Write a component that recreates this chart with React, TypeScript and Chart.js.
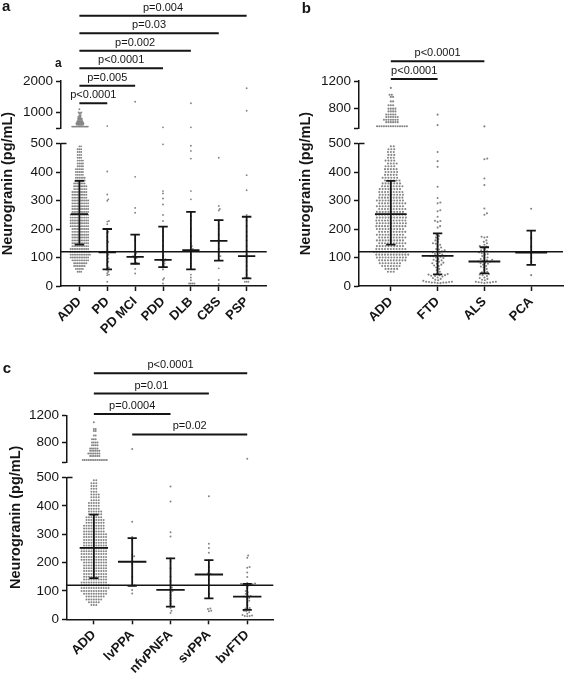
import React, { useEffect, useRef } from 'react';
import { Chart, registerables } from 'chart.js';

Chart.register(...registerables);

const FONT = '"Liberation Sans", Arial, Helvetica, sans-serif';
const INK = '#151515';
const DOT = '#858585';
Chart.defaults.font.family = FONT;

// ---------------- data ----------------
// ADD group (same in all panels): value levels and number of dots at each level
const ADD_LEVELS = [1100, 1000, 970, 905, 850, 800, 760, 715, 680, 640, 605, 545,
  490, 480, 470, 460, 450, 440, 430, 420, 410, 400, 390, 380, 370,
  360, 350, 340, 330, 320, 310, 300, 290, 280, 270, 260, 250, 240, 230, 220, 210, 200, 190, 180, 170, 160, 150,
  140, 130, 120, 110, 100, 90, 80, 70, 60, 50];
const ADD_COUNTS = [1, 2, 2, 2, 3, 4, 4, 5, 6, 7, 6, 14,
  2, 3, 3, 3, 3, 4, 4, 4, 5, 5, 5, 6, 6,
  7, 8, 8, 9, 9, 9, 10, 10, 10, 10, 10, 11, 11, 11, 11, 11, 10, 10, 10, 10, 10, 10,
  10, 11, 12, 12, 11, 10, 8, 7, 5, 3];
const ADD_VALUES: number[] = ADD_LEVELS.flatMap((v, i) => Array(ADD_COUNTS[i]).fill(v));

const REF_VALUE = 120;

// Panel a
const A_CATEGORIES = ['ADD', 'PD', 'PD MCI', 'PDD', 'DLB', 'CBS', 'PSP'];
const A_PD = [560, 402, 321, 304, 299, 228, 226, 217, 200, 190, 185, 172, 160, 155, 150, 140, 125, 120, 118, 115, 110, 105, 97, 92, 85, 80, 73, 65, 62, 58, 55, 50, 45, 40, 38, 15];
const A_PDMCI = [1340, 383, 274, 257, 160, 125, 115, 110, 105, 103, 100, 98, 95, 82, 78, 60, 44];
const A_PDD = [520, 497, 333, 325, 307, 286, 249, 228, 208, 190, 175, 158, 140, 123, 106, 100, 94, 92, 90, 88, 85, 82, 78, 75, 70, 65, 58, 27, 22, 9];
const A_DLB = [1288, 520, 492, 474, 447, 333, 304, 245, 230, 200, 175, 150, 140, 135, 130, 126, 125, 120, 110, 100, 90, 80, 70, 60, 40, 30, 20, 9, 9, 9, 9];
const A_CBS = [450, 281, 270, 265, 231, 213, 202, 180, 160, 150, 130, 120, 105, 105, 91, 62, 21, 7];
const A_PSP = [1767, 1051, 389, 336, 249, 230, 210, 190, 175, 160, 140, 125, 110, 100, 85, 70, 55, 40, 29, 29, 29, 15, 15, 15];
const A_MEDIAN = [252, 118, 102, 92, 126, 158, 105];
const A_Q1 = [145, 58, 78, 66, 58, 89, 27];
const A_Q3 = [369, 200, 180, 208, 260, 231, 243];
const A_TOP_TICKS = [1000, 2000];
const A_SIG_LABELS = ['p<0.0001', 'p=0.005', 'p<0.0001', 'p=0.002', 'p=0.03', 'p=0.004'];
const A_SIG_FROM = [0, 0, 0, 0, 0, 0];
const A_SIG_TO = [1, 2, 3, 4, 5, 6];
const A_SIG_LEVEL = [1, 2, 3, 4, 5, 6];

// Panel b
const B_CATEGORIES = ['ADD', 'FTD', 'ALS', 'PCA'];
const B_FTD = [713, 562, 470, 438, 418, 348, 309, 293, 290, 266, 262, 243, 229, 228, 225, 210, 205, 180, 175, 170, 165, 160, 155, 150, 148, 145, 140, 135, 130, 128, 125, 122, 120, 118, 115, 112, 110, 108, 106, 105, 104, 102, 100, 98, 95, 92, 90, 88, 85, 82, 80, 78, 75, 72, 70, 65, 60, 55, 50, 45, 42, 40, 38, 38, 36, 35, 33, 30, 28, 25, 22, 20, 18, 15, 15, 14, 14, 12, 12, 12, 12, 10, 10];
const B_ALS = [543, 447, 445, 377, 354, 272, 255, 250, 173, 172, 170, 160, 155, 150, 145, 140, 138, 135, 130, 125, 122, 120, 118, 115, 112, 110, 105, 100, 98, 95, 92, 90, 88, 86, 85, 82, 80, 78, 75, 70, 68, 65, 60, 55, 50, 48, 45, 42, 40, 38, 35, 30, 28, 25, 22, 20, 15, 15, 14, 13, 12, 12, 12, 10];
const B_PCA = [271, 168, 138, 115, 100, 85, 38];
const B_MEDIAN = [252, 106, 86, 117];
const B_Q1 = [145, 41, 44, 74];
const B_Q3 = [369, 185, 136, 194];
const B_TOP_TICKS = [800, 1200];
const B_SIG_LABELS = ['p<0.0001', 'p<0.0001'];
const B_SIG_FROM = [0, 0];
const B_SIG_TO = [1, 2];
const B_SIG_LEVEL = [1, 2];

// Panel c
const C_CATEGORIES = ['ADD', 'lvPPA', 'nfvPNFA', 'svPPA', 'bvFTD'];
const C_LVPPA = [708, 344, 290, 280, 228, 222, 217, 204, 195, 150, 120, 119, 103, 91];
const C_NFVPNFA = [468, 415, 307, 292, 214, 205, 180, 150, 135, 120, 112, 105, 100, 95, 85, 75, 65, 55, 44, 40, 30, 22];
const C_SVPPA = [434, 266, 251, 235, 208, 184, 172, 162, 160, 154, 140, 120, 89, 76, 38, 36, 30, 28];
const C_BVFTD = [562, 225, 217, 184, 182, 165, 149, 128, 126, 125, 124, 123, 122, 120, 118, 110, 100, 95, 90, 85, 82, 80, 78, 75, 70, 65, 60, 50, 40, 38, 35, 30, 28, 25, 20, 15, 13, 12, 12, 11];
const C_MEDIAN = [252, 203, 104, 158, 80];
const C_Q1 = [145, 118, 45, 74, 33];
const C_Q3 = [369, 286, 215, 209, 125];
const C_TOP_TICKS = [800, 1200];
const C_SIG_LABELS = ['p=0.02', 'p=0.0004', 'p=0.01', 'p<0.0001'];
const C_SIG_FROM = [1, 0, 0, 0];
const C_SIG_TO = [4, 2, 3, 4];
const C_SIG_LEVEL = [0, 1, 2, 3];

// ---------------- layout ----------------
type PanelSpec = {
  letter: string; cats: string[]; groups: number[][];
  median: number[]; q1: number[]; q3: number[]; topTicks: number[];
  sigLabels: string[]; sigFrom: number[]; sigTo: number[]; sigLevel: number[];
  box: { left: number; top: number; w: number; h: number };
  area: { left: number; top: number; right: number; bottom: number };
  xMin: number; xMax: number; topMin: number; topMax: number;
  sigLevel0: number; sigStep: number; titleX: number; letterX: number; letterY: number;
  gapLow: number; gapHigh: number; dotR: number; medHalf: number; capHalf: number; extraA?: boolean;
};

const PANELS: PanelSpec[] = [
  {
    letter: 'a', cats: A_CATEGORIES, groups: [ADD_VALUES, A_PD, A_PDMCI, A_PDD, A_DLB, A_CBS, A_PSP],
    median: A_MEDIAN, q1: A_Q1, q3: A_Q3, topTicks: A_TOP_TICKS,
    sigLabels: A_SIG_LABELS, sigFrom: A_SIG_FROM, sigTo: A_SIG_TO, sigLevel: A_SIG_LEVEL,
    box: { left: 0, top: 0, w: 285, h: 345 },
    area: { left: 61, top: 81, right: 266.7, bottom: 286 },
    xMin: -0.66, xMax: 6.72, topMin: 500, topMax: 2000,
    sigLevel0: 120.8, sigStep: 17.52, titleX: 8, letterX: 2, letterY: 10.5,
    gapLow: 1.75, gapHigh: 1.2, dotR: 0.95, medHalf: 0.31, capHalf: 0.17, extraA: true,
  },
  {
    letter: 'b', cats: B_CATEGORIES, groups: [ADD_VALUES, B_FTD, B_ALS, B_PCA],
    median: B_MEDIAN, q1: B_Q1, q3: B_Q3, topTicks: B_TOP_TICKS,
    sigLabels: B_SIG_LABELS, sigFrom: B_SIG_FROM, sigTo: B_SIG_TO, sigLevel: B_SIG_LEVEL,
    box: { left: 285, top: 0, w: 282, h: 345 },
    area: { left: 74, top: 81, right: 279.3, bottom: 286 },
    xMin: -0.68, xMax: 3.68, topMin: 520, topMax: 1200,
    sigLevel0: 96.7, sigStep: 17.7, titleX: 21, letterX: 16.7, letterY: 12.7,
    gapLow: 2.9, gapHigh: 2.3, dotR: 1.05, medHalf: 0.34, capHalf: 0.1,
  },
  {
    letter: 'c', cats: C_CATEGORIES, groups: [ADD_VALUES, C_LVPPA, C_NFVPNFA, C_SVPPA, C_BVFTD],
    median: C_MEDIAN, q1: C_Q1, q3: C_Q3, topTicks: C_TOP_TICKS,
    sigLabels: C_SIG_LABELS, sigFrom: C_SIG_FROM, sigTo: C_SIG_TO, sigLevel: C_SIG_LEVEL,
    box: { left: 0, top: 340, w: 330, h: 341 },
    area: { left: 67, top: 75.3, right: 273.3, bottom: 279.3 },
    xMin: -0.7, xMax: 4.68, topMin: 515, topMax: 1200,
    sigLevel0: 94.4, sigStep: 20.4, titleX: 16, letterX: 2.7, letterY: 33.3,
    gapLow: 2.45, gapHigh: 1.85, dotR: 1.0, medHalf: 0.37, capHalf: 0.12,
  },
];

function makeConfig(p: PanelSpec): any {
  const low: any[] = [];
  const high: any[] = [];
  p.groups.forEach((vals, g) => vals.forEach((v) => (v > 500 ? high : low).push({ x: g, y: v, g })));

  const stats: any[] = [];
  p.median.forEach((m, i) => {
    const a = p.q3[i];
    const b = p.q1[i];
    stats.push(
      { x: i - p.medHalf, y: m }, { x: i + p.medHalf, y: m }, { x: i, y: null },
      { x: i - p.capHalf, y: a }, { x: i + p.capHalf, y: a }, { x: i, y: null },
      { x: i, y: a }, { x: i, y: b }, { x: i, y: null },
      { x: i - p.capHalf, y: b }, { x: i + p.capHalf, y: b }, { x: i, y: null },
    );
  });
  const sig: any[] = [];
  p.sigLabels.forEach((_, i) => {
    sig.push({ x: p.sigFrom[i], y: p.sigLevel[i] }, { x: p.sigTo[i], y: p.sigLevel[i] }, { x: p.sigTo[i], y: null });
  });

  const H = p.area.bottom - p.area.top;
  const sigMax = (p.sigLevel0 - p.area.top) / p.sigStep;
  const sigMin = sigMax - H / p.sigStep;

  const dotBase = {
    type: 'scatter', showLine: false, pointRadius: p.dotR, pointBorderWidth: 0,
    pointBackgroundColor: DOT, backgroundColor: DOT, borderColor: DOT, clip: false, order: 5, xAxisID: 'x',
  };
  const lineBase = { type: 'scatter', showLine: true, pointRadius: 0, fill: false, spanGaps: false, clip: false, xAxisID: 'x' };

  const datasets = [
    { ...dotBase, label: 'dots-low', yAxisID: 'y', data: low, swarmGap: p.gapLow },
    { ...dotBase, label: 'dots-high', yAxisID: 'yTop', data: high, swarmGap: p.gapHigh },
    { ...lineBase, label: 'stats', yAxisID: 'y', data: stats, borderColor: INK, borderWidth: 1.8, order: 1 },
    { ...lineBase, label: 'ref', yAxisID: 'y', data: [{ x: p.xMin, y: REF_VALUE }, { x: p.xMax, y: REF_VALUE }], borderColor: INK, borderWidth: 1.5, order: 2 },
    { ...lineBase, label: 'sig', yAxisID: 'ySig', data: sig, borderColor: INK, borderWidth: 2, order: 1 },
  ];

  const grid = { drawOnChartArea: false, drawTicks: true, tickLength: 5, tickWidth: 1.5, tickColor: INK };
  const border = { display: true, width: 1.5, color: INK };
  const yTicks = { font: { size: 13.5 }, color: INK, padding: 3, autoSkip: false };

  const decor = {
    id: 'decor',
    afterDraw(chart: any) {
      const ctx = chart.ctx;
      const { x, y, ySig } = chart.scales;
      const ca = chart.chartArea;
      ctx.save();
      // break cap at the top of the lower segment
      const p500 = y.getPixelForValue(500);
      ctx.strokeStyle = INK;
      ctx.lineWidth = 1.5;
      ctx.beginPath();
      ctx.moveTo(ca.left, p500);
      ctx.lineTo(ca.left + 5.5, p500);
      ctx.stroke();
      // significance labels
      ctx.fillStyle = INK;
      ctx.font = `11px ${FONT}`;
      ctx.textAlign = 'center';
      ctx.textBaseline = 'middle';
      p.sigLabels.forEach((lab, i) => {
        const mid = (x.getPixelForValue(p.sigFrom[i]) + x.getPixelForValue(p.sigTo[i])) / 2;
        ctx.fillText(lab, mid, ySig.getPixelForValue(p.sigLevel[i]) - 8);
      });
      // axis title
      ctx.save();
      ctx.translate(p.titleX, (ca.top + ca.bottom) / 2);
      ctx.rotate(-Math.PI / 2);
      ctx.font = `bold 14.5px ${FONT}`;
      ctx.fillText('Neurogranin (pg/mL)', 0, 0);
      ctx.restore();
      // panel letter
      ctx.textAlign = 'left';
      ctx.textBaseline = 'alphabetic';
      ctx.font = `bold 15px ${FONT}`;
      ctx.fillText(p.letter, p.letterX, p.letterY);
      if (p.extraA) {
        ctx.font = `bold 12px ${FONT}`;
        ctx.fillText('a', 55, 67.3);
      }
      ctx.restore();
    },
  };

  return {
    type: 'scatter',
    data: { datasets },
    options: {
      animation: false,
      responsive: false,
      devicePixelRatio: 1,
      events: [],
      layout: { padding: { left: 0, top: p.area.top, right: p.box.w - p.area.right, bottom: 0 } },
      plugins: { legend: { display: false }, tooltip: { enabled: false } },
      scales: {
        x: {
          type: 'linear', position: 'bottom', min: p.xMin, max: p.xMax,
          afterBuildTicks: (s: any) => { s.ticks = p.cats.map((_, i) => ({ value: i })); },
          afterFit: (s: any) => { s.height = p.box.h - p.area.bottom; },
          ticks: {
            autoSkip: false, minRotation: 45, maxRotation: 45, padding: 3, color: INK,
            font: { size: 13, weight: 'bold' },
            callback: (v: any) => p.cats[Math.round(v)] ?? '',
          },
          grid, border,
        },
        y: {
          type: 'linear', position: 'left', stack: 'v', stackWeight: 142.5, min: 0, max: 500,
          afterFit: (s: any) => { s.width = p.area.left; },
          afterBuildTicks: (s: any) => { s.ticks = [0, 100, 200, 300, 400, 500].map((v) => ({ value: v })); },
          ticks: { ...yTicks },
          grid, border,
        },
        yGap: { type: 'linear', position: 'left', stack: 'v', stackWeight: 15.5, display: false, min: 0, max: 1 },
        yTop: {
          type: 'linear', position: 'left', stack: 'v', stackWeight: 47, min: p.topMin, max: p.topMax,
          afterFit: (s: any) => { s.width = p.area.left; },
          afterBuildTicks: (s: any) => { s.ticks = [p.topMin, ...p.topTicks].map((v) => ({ value: v })); },
          ticks: { ...yTicks, callback: (v: any) => (v === p.topMin ? '' : String(v)) },
          grid, border,
        },
        ySig: { type: 'linear', position: 'right', display: false, min: sigMin, max: sigMax },
      },
    },
    plugins: [decor],
  };
}

function applySwarm(chart: any) {
  const xs = chart.scales.x;
  const pxPerUnit = xs.getPixelForValue(1) - xs.getPixelForValue(0);
  chart.data.datasets.forEach((ds: any) => {
    if (!ds.swarmGap) return;
    const gap = ds.swarmGap;
    const ys = chart.scales[ds.yAxisID];
    const groups = new Map<number, any[]>();
    ds.data.forEach((pt: any) => {
      if (!groups.has(pt.g)) groups.set(pt.g, []);
      groups.get(pt.g)!.push(pt);
    });
    groups.forEach((pts) => {
      const items = pts.map((pt: any) => ({ pt, py: ys.getPixelForValue(pt.y), ox: 0 }));
      items.sort((a: any, b: any) => b.py - a.py);
      const placed: any[] = [];
      for (const it of items) {
        const near = placed.filter((q) => Math.abs(q.py - it.py) < gap);
        const cands = [0];
        near.forEach((q) => {
          const dx = Math.sqrt(Math.max(0, gap * gap - (q.py - it.py) ** 2));
          cands.push(q.ox + dx, q.ox - dx);
        });
        cands.sort((a, b) => Math.abs(a) - Math.abs(b) || b - a);
        for (const c of cands) {
          if (near.every((q) => (q.ox - c) ** 2 + (q.py - it.py) ** 2 >= gap * gap - 1e-6)) {
            it.ox = c;
            break;
          }
        }
        placed.push(it);
      }
      items.forEach((it: any) => { it.pt.x = it.pt.g + it.ox / pxPerUnit; });
    });
  });
  chart.update('none');
}

function Panel({ p }: { p: PanelSpec }) {
  const ref = useRef<HTMLCanvasElement>(null);
  useEffect(() => {
    const chart = new Chart(ref.current as HTMLCanvasElement, makeConfig(p));
    applySwarm(chart);
    return () => chart.destroy();
  }, []);
  return (
    <canvas
      ref={ref}
      width={p.box.w}
      height={p.box.h}
      style={{ position: 'absolute', left: p.box.left, top: p.box.top, width: p.box.w, height: p.box.h }}
    />
  );
}

export default function App() {
  return (
    <div style={{ position: 'fixed', left: 0, top: 0, width: 567, height: 681, background: '#fff', overflow: 'hidden' }}>
      {PANELS.map((p) => <Panel key={p.letter} p={p} />)}
    </div>
  );
}
